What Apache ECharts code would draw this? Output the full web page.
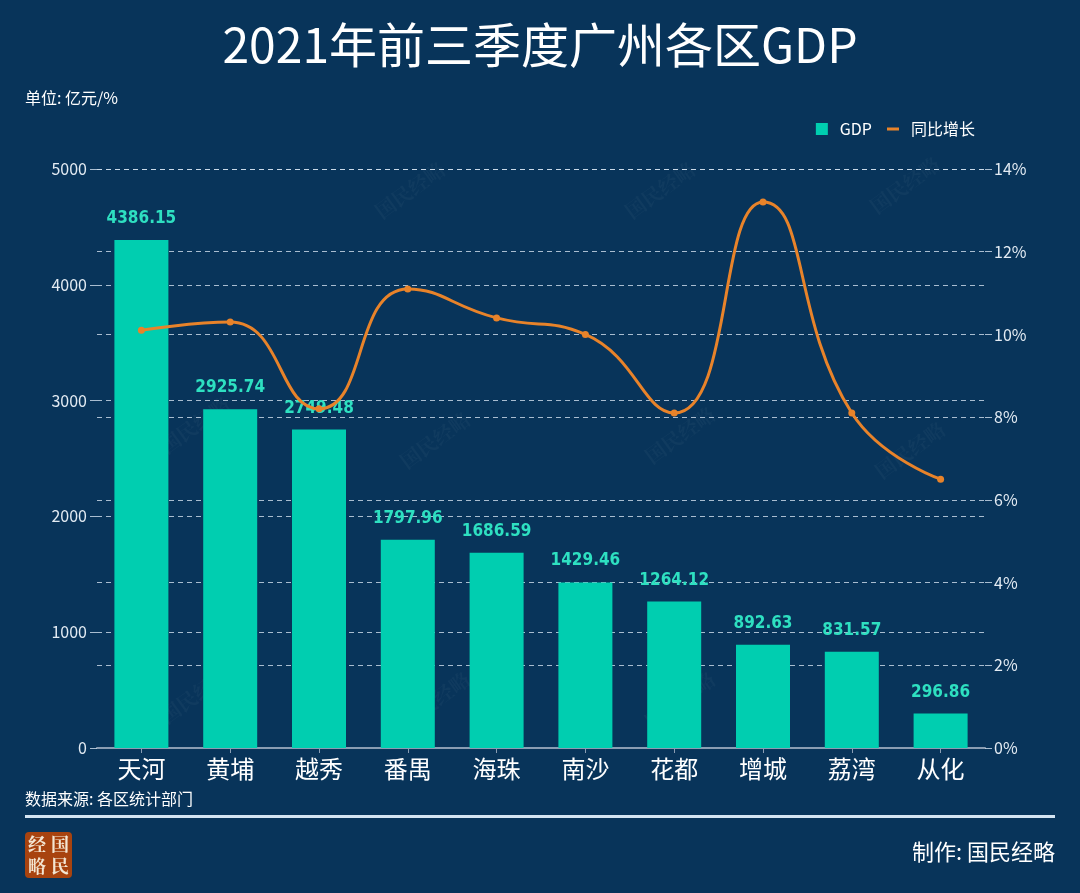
<!DOCTYPE html>
<html>
<head>
<meta charset="utf-8">
<script src="https://cdn.jsdelivr.net/npm/echarts@6/dist/echarts.min.js"></script>
<style>
html,body{margin:0;padding:0;background:#08345a;}
#chart{width:1080px;height:893px;}
</style>
</head>
<body>
<div id="chart"></div>
<script>
const categories = ['天河','黄埔','越秀','番禺','海珠','南沙','花都','增城','荔湾','从化'];
const gdpValues = [4386.15, 2925.74, 2749.48, 1797.96, 1686.59, 1429.46, 1264.12, 892.63, 831.57, 296.86];
const growthValues = [10.1, 10.3, 8.2, 11.1, 10.4, 10.0, 8.1, 13.2, 8.1, 6.5];
const seriesNames = ['GDP', '同比增长'];
const titleText = '2021年前三季度广州各区GDP';
const unitText = '单位: 亿元/%';
const sourceText = '数据来源: 各区统计部门';
const creditText = '制作: 国民经略';

const CJK = '"Noto Sans CJK SC", "Noto Sans", sans-serif';
const chart = echarts.init(document.getElementById('chart'), null, {renderer: 'canvas'});

const gridColor = 'rgba(210,224,238,0.8)';
const watermarks = [];
[[410,190],[660,190],[905,185],[195,425],[435,440],[680,435],[910,450],[195,695],[435,700],[680,700]].forEach(function(p){
  watermarks.push({type:'text', x:p[0], y:p[1], rotation: Math.PI/5, silent:true, z:0,
    style:{text:'国民经略', fill:'rgba(255,255,255,0.035)', font:'bold 20px "Noto Serif CJK SC", "Noto Sans CJK SC", serif', align:'center', verticalAlign:'middle'}});
});

const option = {
  backgroundColor: '#08345a',
  animation: false,
  title: {
    text: titleText, left: 'center', top: 16,
    textStyle: {color: '#ffffff', fontSize: 48, fontWeight: 'normal', fontFamily: CJK}
  },
  legend: {
    right: 100, top: 116, itemWidth: 12, itemHeight: 12, itemGap: 15,
    textStyle: {color: '#ffffff', fontSize: 16, fontFamily: CJK, padding: [0, 0, 0, 7]},
    data: [
      {name: seriesNames[0], icon: 'rect'},
      {name: seriesNames[1], icon: 'path://M0,0 L12,0 M0,4.5 L12,4.5 L12,7.5 L0,7.5 Z M0,12 L12,12', itemStyle: {color: '#e8832a'}}
    ]
  },
  grid: {left: 97, right: 95, top: 169, bottom: 145, containLabel: false},
  xAxis: {
    type: 'category', data: categories,
    axisLine: {show: true, lineStyle: {color: '#8a9db3', width: 2}},
    axisTick: {show: true, alignWithLabel: true, length: 5, lineStyle: {color: '#8a9db3'}},
    axisLabel: {color: '#ffffff', fontSize: 24, fontFamily: CJK, margin: 9}
  },
  yAxis: [
    {
      type: 'value', min: 0, max: 5000, interval: 1000,
      axisLine: {show: false},
      axisTick: {show: true, length: 7, lineStyle: {color: gridColor}},
      axisLabel: {color: '#e3ebf3', fontSize: 16, fontFamily: CJK, margin: 10, formatter: function(v){ return String(v); }},
      splitLine: {show: true, lineStyle: {color: gridColor, type: [5, 4], width: 1}}
    },
    {
      type: 'value', min: 0, max: 14, interval: 2,
      axisLine: {show: false},
      axisTick: {show: true, length: 7, lineStyle: {color: gridColor}},
      axisLabel: {color: '#e3ebf3', fontSize: 16, fontFamily: CJK, margin: 9, formatter: '{value}%'},
      splitLine: {show: true, lineStyle: {color: gridColor, type: [5, 4], width: 1}}
    }
  ],
  series: [
    {
      name: seriesNames[0], type: 'bar', data: gdpValues, barWidth: 54, yAxisIndex: 0,
      itemStyle: {color: '#00ceb0'},
      label: {show: true, position: 'top', distance: 13, color: '#2ee0c1',
        fontSize: 17, fontWeight: 'bold', fontFamily: '"DejaVu Sans Condensed", "Liberation Sans Narrow", sans-serif',
        formatter: function(p){ return p.value.toFixed(2); }},
      z: 2
    },
    {
      name: seriesNames[1], type: 'line', data: growthValues, yAxisIndex: 1, smooth: 0.5,
      symbol: 'circle', symbolSize: 7,
      lineStyle: {color: '#e8832a', width: 3},
      itemStyle: {color: '#e8832a'},
      z: 3
    }
  ],
  graphic: watermarks.concat([
    {type:'text', left: 25, top: 90, style:{text: unitText, fill:'#ffffff', font:'16px ' + CJK}},
    {type:'text', left: 25, top: 791, style:{text: sourceText, fill:'#ffffff', font:'16px ' + CJK}},
    {type:'rect', shape:{x:25, y:815, width:1030, height:3}, style:{fill:'#d4e4f2'}},
    {type:'rect', shape:{x:25, y:832, width:47, height:46, r:4}, style:{fill:'#a8430f'}},
    {type:'text', x:37, y:844, style:{text:'经', fill:'#f3e6d3', font:'bold 18px "Noto Serif CJK SC", "Noto Sans CJK SC", serif', align:'center', verticalAlign:'middle'}},
    {type:'text', x:60, y:844, style:{text:'国', fill:'#f3e6d3', font:'bold 18px "Noto Serif CJK SC", "Noto Sans CJK SC", serif', align:'center', verticalAlign:'middle'}},
    {type:'text', x:37, y:866, style:{text:'略', fill:'#f3e6d3', font:'bold 18px "Noto Serif CJK SC", "Noto Sans CJK SC", serif', align:'center', verticalAlign:'middle'}},
    {type:'text', x:60, y:866, style:{text:'民', fill:'#f3e6d3', font:'bold 18px "Noto Serif CJK SC", "Noto Sans CJK SC", serif', align:'center', verticalAlign:'middle'}},
    {type:'text', right: 25, top: 841, style:{text: creditText, fill:'#ffffff', font:'22px ' + CJK}}
  ])
};
chart.setOption(option);
</script>
</body>
</html>
